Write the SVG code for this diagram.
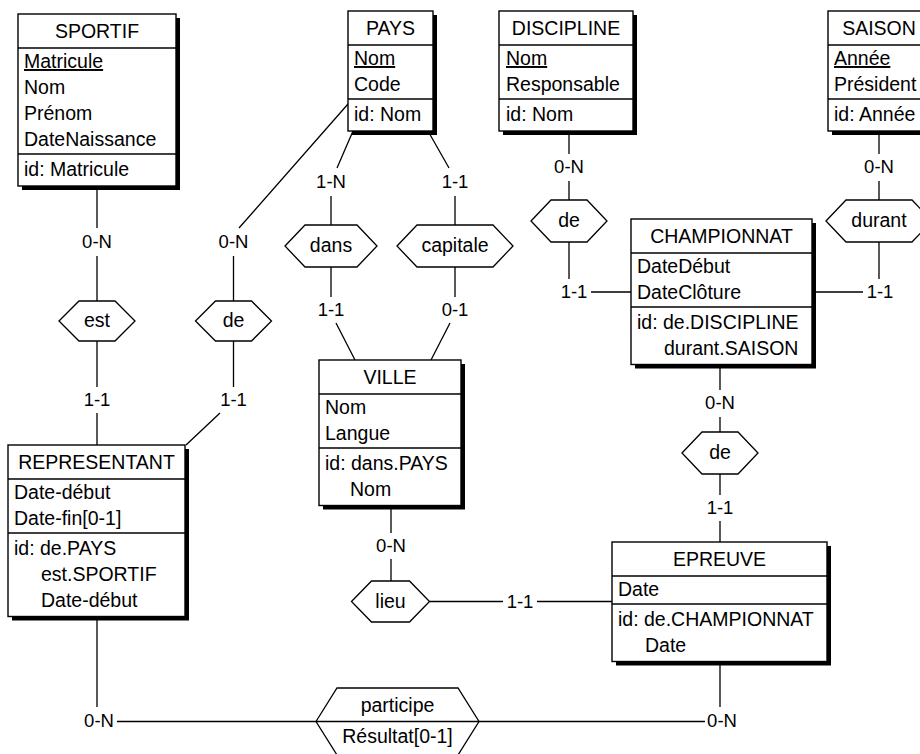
<svg xmlns="http://www.w3.org/2000/svg" width="920" height="754" viewBox="0 0 920 754">
  <style>
    .shadow { fill: #000; }
    .box { fill: #fff; stroke: #000; stroke-width: 1.4; }
    .sep { stroke: #000; stroke-width: 1.3; }
    .t { font-family: "Liberation Sans", Arial, sans-serif; font-size: 19.5px; fill: #000; }
    .c { text-anchor: middle; }
    .u { text-decoration: underline; }
    .card { font-family: "Liberation Sans", Arial, sans-serif; font-size: 18.5px; fill: #000; text-anchor: middle; }
    .rel { fill: #fff; stroke: #000; stroke-width: 1.3; }
    .link { fill: none; stroke: #000; stroke-width: 1.3; }
  </style>
  <rect width="920" height="754" fill="#fff"/>

  <!-- connectors (segments are interrupted where cardinalities sit) -->
  <g id="connectors" class="link">
    <path d="M97,186 V228 M97,256 V301"/>
    <path d="M97,341 V387 M97,413 V445"/>
    <path d="M348,104 L239,228 M233.5,256 V301"/>
    <path d="M233.5,341 V387 M220,413 L186,445"/>
    <path d="M353,131 L337,168 M331,196 V225"/>
    <path d="M428,131 L449,168 M455,196 V225"/>
    <path d="M331,267 V297 M336,323 L355,360"/>
    <path d="M455,267 V297 M450,323 L431,360"/>
    <path d="M569,131 V154 M569,181 V200"/>
    <path d="M569,242 V279 M591,292 H631"/>
    <path d="M879,131 V154 M879,181 V200"/>
    <path d="M879,242 V279 M863,292 H812"/>
    <path d="M720,364.5 V390 M720,417 V432"/>
    <path d="M720,474 V495 M720,521 V542"/>
    <path d="M391,505.5 V533 M391,559 V581"/>
    <path d="M429.5,601.5 H503 M537,601.5 H612"/>
    <path d="M97,616.5 V707 M117,721.5 H316"/>
    <path d="M720,661.5 V707 M705,721.5 H479"/>
  </g>

  <!-- cardinalities -->
  <g id="cardinalities" class="card">
    <text x="97" y="248">0-N</text>
    <text x="97" y="406">1-1</text>
    <text x="233.5" y="248">0-N</text>
    <text x="233.5" y="406">1-1</text>
    <text x="331" y="188">1-N</text>
    <text x="455" y="188">1-1</text>
    <text x="331" y="316">1-1</text>
    <text x="455" y="316">0-1</text>
    <text x="569" y="173">0-N</text>
    <text x="574" y="298">1-1</text>
    <text x="879" y="173">0-N</text>
    <text x="880" y="298">1-1</text>
    <text x="720" y="409">0-N</text>
    <text x="720" y="514">1-1</text>
    <text x="391" y="552">0-N</text>
    <text x="520" y="607.5">1-1</text>
    <text x="99" y="727">0-N</text>
    <text x="722" y="727">0-N</text>
  </g>

  <!-- entity types -->
  <g id="SPORTIF">
    <rect class="shadow" x="22" y="18" width="158" height="172"/>
    <rect class="box" x="18" y="14" width="158" height="172"/>
    <line class="sep" x1="18" y1="48" x2="176" y2="48"/>
    <line class="sep" x1="18" y1="154" x2="176" y2="154"/>
    <text class="t c" x="97" y="38">SPORTIF</text>
    <text class="t u" x="24" y="68">Matricule</text>
    <text class="t" x="24" y="94">Nom</text>
    <text class="t" x="24" y="120">Prénom</text>
    <text class="t" x="24" y="146">DateNaissance</text>
    <text class="t" x="24" y="175.5">id: Matricule</text>
  </g>

  <g id="PAYS">
    <rect class="shadow" x="352" y="15" width="85" height="120"/>
    <rect class="box" x="348" y="11" width="85" height="120"/>
    <line class="sep" x1="348" y1="45" x2="433" y2="45"/>
    <line class="sep" x1="348" y1="99" x2="433" y2="99"/>
    <text class="t c" x="390.5" y="35">PAYS</text>
    <text class="t u" x="354" y="65">Nom</text>
    <text class="t" x="354" y="91">Code</text>
    <text class="t" x="354" y="120.5">id: Nom</text>
  </g>

  <g id="DISCIPLINE">
    <rect class="shadow" x="503" y="15" width="134" height="120"/>
    <rect class="box" x="499" y="11" width="134" height="120"/>
    <line class="sep" x1="499" y1="45" x2="633" y2="45"/>
    <line class="sep" x1="499" y1="99" x2="633" y2="99"/>
    <text class="t c" x="566" y="35">DISCIPLINE</text>
    <text class="t u" x="506" y="65">Nom</text>
    <text class="t" x="506" y="91">Responsable</text>
    <text class="t" x="506" y="120.5">id: Nom</text>
  </g>

  <g id="SAISON">
    <rect class="shadow" x="832" y="15" width="102" height="120"/>
    <rect class="box" x="828" y="11" width="102" height="120"/>
    <line class="sep" x1="828" y1="45" x2="930" y2="45"/>
    <line class="sep" x1="828" y1="99" x2="930" y2="99"/>
    <text class="t c" x="879" y="35">SAISON</text>
    <text class="t u" x="834" y="65">Année</text>
    <text class="t" x="834" y="91">Président</text>
    <text class="t" x="834" y="120.5">id: Année</text>
  </g>

  <g id="CHAMPIONNAT">
    <rect class="shadow" x="635" y="223" width="181" height="145.5"/>
    <rect class="box" x="631" y="219" width="181" height="145.5"/>
    <line class="sep" x1="631" y1="253" x2="812" y2="253"/>
    <line class="sep" x1="631" y1="307" x2="812" y2="307"/>
    <text class="t c" x="721.5" y="243">CHAMPIONNAT</text>
    <text class="t" x="637" y="273">DateDébut</text>
    <text class="t" x="637" y="299">DateClôture</text>
    <text class="t" x="637" y="328.5">id: de.DISCIPLINE</text>
    <text class="t" x="664" y="354.5">durant.SAISON</text>
  </g>

  <g id="VILLE">
    <rect class="shadow" x="323" y="364" width="142" height="145.5"/>
    <rect class="box" x="319" y="360" width="142" height="145.5"/>
    <line class="sep" x1="319" y1="394" x2="461" y2="394"/>
    <line class="sep" x1="319" y1="448" x2="461" y2="448"/>
    <text class="t c" x="390" y="384">VILLE</text>
    <text class="t" x="325" y="414">Nom</text>
    <text class="t" x="325" y="440">Langue</text>
    <text class="t" x="325" y="469.5">id: dans.PAYS</text>
    <text class="t" x="350" y="495.5">Nom</text>
  </g>

  <g id="REPRESENTANT">
    <rect class="shadow" x="12" y="449" width="177" height="171.5"/>
    <rect class="box" x="8" y="445" width="177" height="171.5"/>
    <line class="sep" x1="8" y1="479" x2="185" y2="479"/>
    <line class="sep" x1="8" y1="533" x2="185" y2="533"/>
    <text class="t c" x="96.5" y="469">REPRESENTANT</text>
    <text class="t" x="14" y="499">Date-début</text>
    <text class="t" x="14" y="525">Date-fin[0-1]</text>
    <text class="t" x="14" y="554.5">id: de.PAYS</text>
    <text class="t" x="41" y="580.5">est.SPORTIF</text>
    <text class="t" x="41" y="606.5">Date-début</text>
  </g>

  <g id="EPREUVE">
    <rect class="shadow" x="616" y="546" width="215" height="119.5"/>
    <rect class="box" x="612" y="542" width="215" height="119.5"/>
    <line class="sep" x1="612" y1="576" x2="827" y2="576"/>
    <line class="sep" x1="612" y1="604" x2="827" y2="604"/>
    <text class="t c" x="719.5" y="566">EPREUVE</text>
    <text class="t" x="618" y="596">Date</text>
    <text class="t" x="618" y="625.5">id: de.CHAMPIONNAT</text>
    <text class="t" x="645" y="651.5">Date</text>
  </g>

  <!-- relationship types -->
  <g id="est">
    <polygon class="rel" points="59,321 79,301 115,301 135,321 115,341 79,341"/>
    <text class="t c" x="97" y="327">est</text>
  </g>
  <g id="de_pays">
    <polygon class="rel" points="195.5,321 215.5,301 251.5,301 271.5,321 251.5,341 215.5,341"/>
    <text class="t c" x="233.5" y="327">de</text>
  </g>
  <g id="dans">
    <polygon class="rel" points="285,246 305,225 357,225 377,246 357,267 305,267"/>
    <text class="t c" x="331" y="252">dans</text>
  </g>
  <g id="capitale">
    <polygon class="rel" points="397,246 417,225 493,225 513,246 493,267 417,267"/>
    <text class="t c" x="455" y="252">capitale</text>
  </g>
  <g id="de_discipline">
    <polygon class="rel" points="531,221 551,200 587,200 607,221 587,242 551,242"/>
    <text class="t c" x="569" y="227">de</text>
  </g>
  <g id="durant">
    <polygon class="rel" points="826,221 846,200 912,200 932,221 912,242 846,242"/>
    <text class="t c" x="879" y="227">durant</text>
  </g>
  <g id="de_championnat">
    <polygon class="rel" points="682,453 702,432 738,432 758,453 738,474 702,474"/>
    <text class="t c" x="720" y="459">de</text>
  </g>
  <g id="lieu">
    <polygon class="rel" points="351.5,601.5 371.5,581 409.5,581 429.5,601.5 409.5,622 371.5,622"/>
    <text class="t c" x="390.5" y="607.5">lieu</text>
  </g>
  <g id="participe">
    <polygon class="rel" points="316,721.5 337,688 458,688 479,721.5 458,755 337,755"/>
    <line class="sep" x1="316" y1="721.5" x2="479" y2="721.5"/>
    <text class="t c" x="397.5" y="712">participe</text>
    <text class="t c" x="397.5" y="743">Résultat[0-1]</text>
  </g>
</svg>
